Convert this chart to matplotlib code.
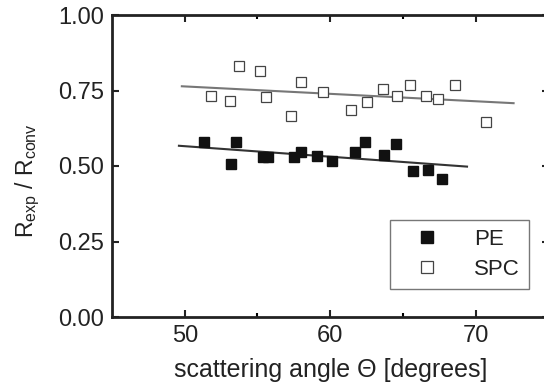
import matplotlib

matplotlib.use("Agg")
import matplotlib.pyplot as plt

plt.rcParams["font.family"] = ["Liberation Sans", "DejaVu Sans"]
plt.rcParams["mathtext.fontset"] = "custom"
plt.rcParams["mathtext.rm"] = "Liberation Sans"
plt.rcParams["mathtext.it"] = "Liberation Sans:italic"

# PE (filled squares)
pe_angle = [51.3, 53.2, 53.5, 55.4, 55.7, 57.5, 58.0, 59.1, 60.1, 61.7, 62.4, 63.7, 64.5, 65.7, 66.7, 67.7]
pe_ratio = [0.578, 0.505, 0.578, 0.531, 0.531, 0.531, 0.546, 0.533, 0.517, 0.545, 0.578, 0.538, 0.572, 0.483, 0.486, 0.456]
pe_fit_x = [49.6, 69.4]
pe_fit_y = [0.567, 0.498]

# SPC (open squares)
spc_angle = [51.8, 53.1, 53.7, 55.2, 55.6, 57.3, 58.0, 59.5, 61.4, 62.5, 63.6, 64.6, 65.5, 66.6, 67.4, 68.6, 70.7]
spc_ratio = [0.731, 0.715, 0.832, 0.814, 0.727, 0.665, 0.777, 0.745, 0.687, 0.711, 0.754, 0.731, 0.768, 0.732, 0.722, 0.768, 0.646]
spc_fit_x = [49.8, 72.6]
spc_fit_y = [0.764, 0.708]

x_ticks = [50, 60, 70]
y_ticks = [0.00, 0.25, 0.50, 0.75, 1.00]

TEXT = "#222222"

fig = plt.figure(figsize=(5.44, 3.92), dpi=100)
ax = fig.add_axes([112 / 544, 1 - 317 / 392, 436.5 / 544, 302 / 392])

ax.plot(pe_fit_x, pe_fit_y, color="#333333", linewidth=1.5, zorder=2)
ax.plot(spc_fit_x, spc_fit_y, color="#777777", linewidth=1.5, zorder=2)
ax.plot(pe_angle, pe_ratio, linestyle="none", marker="s", markersize=6.5,
        markerfacecolor="#111111", markeredgecolor="#111111", label="PE", zorder=3)
ax.plot(spc_angle, spc_ratio, linestyle="none", marker="s", markersize=6.5,
        markerfacecolor="white", markeredgecolor="#444444", markeredgewidth=0.9,
        label="SPC", zorder=3)

ax.set_xlim(45, 75)
ax.set_ylim(0, 1)
ax.set_xticks(x_ticks)
ax.set_xticks([55, 65], minor=True)
ax.set_yticks(y_ticks)
ax.set_yticklabels([f"{v:.2f}" for v in y_ticks])

ax.tick_params(which="major", direction="in", length=5, width=1.5, top=True, right=True,
               labelsize=17, colors=TEXT, pad=6)
ax.tick_params(which="minor", direction="in", length=3, width=1.5, top=True, right=True)
for spine in ax.spines.values():
    spine.set_linewidth(2)
    spine.set_color("#222222")

ax.set_xlabel("scattering angle Θ [degrees]", fontsize=18, color=TEXT, labelpad=8)
ax.set_ylabel(r"R$_{\mathrm{exp}}$ / R$_{\mathrm{conv}}$", fontsize=16.5, color=TEXT)
ax.yaxis.set_label_coords(-0.16, 0.45)

leg = ax.legend(loc="lower right", bbox_to_anchor=(417 / 436.5, 28 / 302), borderaxespad=0,
                fontsize=16, frameon=True, fancybox=False, handlelength=2.5,
                handletextpad=0.9, borderpad=0.4, labelspacing=0.4, markerscale=1.3)
leg.get_frame().set_edgecolor("#555555")
leg.get_frame().set_linewidth(1.0)
for t in leg.get_texts():
    t.set_color(TEXT)

fig.savefig("out.png", dpi=100)
